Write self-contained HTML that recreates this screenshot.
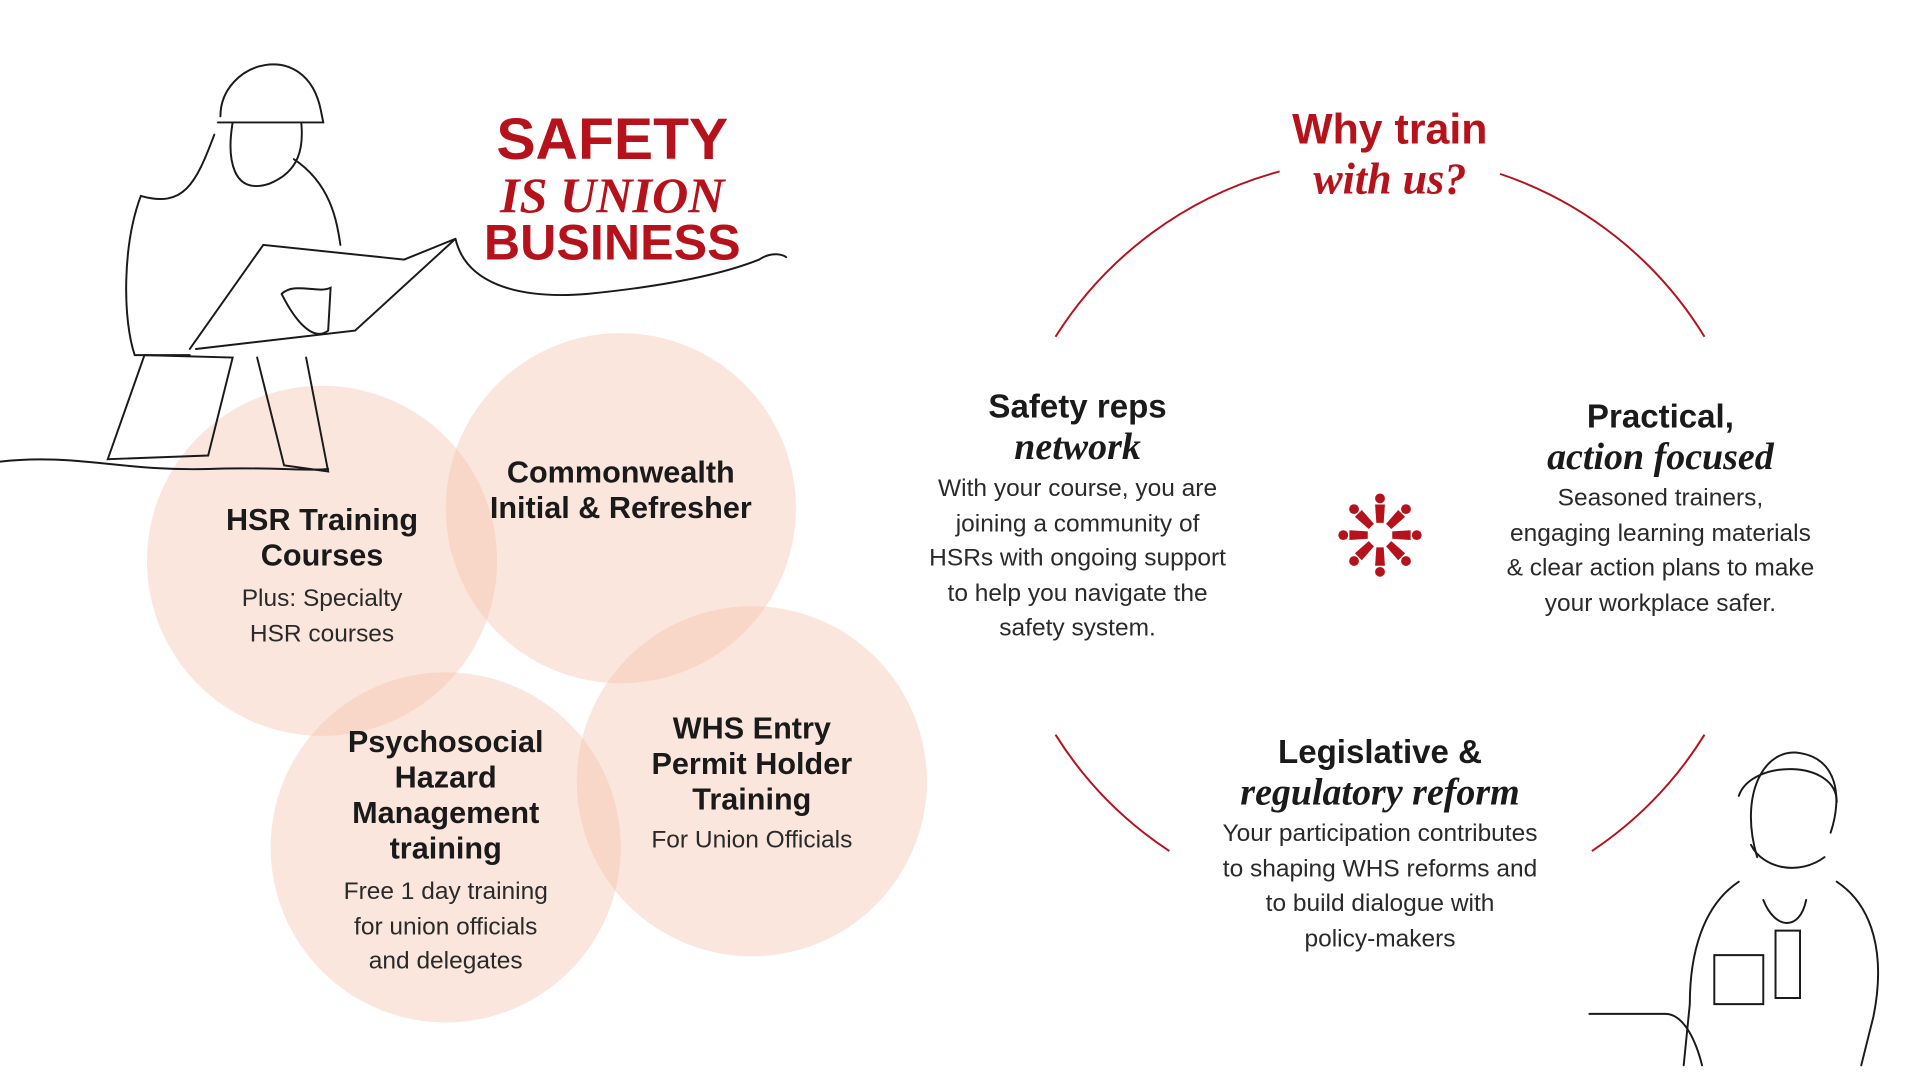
<!DOCTYPE html>
<html><head><meta charset="utf-8"><style>
html,body{margin:0;padding:0;background:#fff;width:1920px;height:1080px;overflow:hidden}
#w{position:absolute;left:0;top:0;width:1568px;height:882px;transform:scale(1.2245);transform-origin:0 0;font-family:"Liberation Sans",sans-serif;color:#1a1a1a}
.c{position:absolute;border-radius:50%;background:rgba(246,196,174,0.42)}
.t{position:absolute;text-align:center;transform:translateX(-50%);white-space:nowrap}
.h{font-weight:bold;font-size:25px;line-height:29px}
.b{font-size:20px;line-height:28.5px;color:#2a2a2a}
.i{font-family:"Liberation Serif",serif;font-style:italic;font-weight:bold;font-size:31px}
.red{color:#b5121b}
</style></head><body><div id="w">
<div class="c" style="left:120px;top:315px;width:286px;height:286px"></div>
<div class="c" style="left:364px;top:272px;width:286px;height:286px"></div>
<div class="c" style="left:221px;top:549px;width:286px;height:286px"></div>
<div class="c" style="left:471px;top:495px;width:286px;height:286px"></div>

<svg style="position:absolute;left:0;top:0" width="1568" height="882" fill="none">
<g stroke="#b5121b" stroke-width="1.6">
<path d="M862 275 A312 312 0 0 1 1045 140"/>
<path d="M1225 142 A312 312 0 0 1 1392 275"/>
<path d="M862 600 A312 312 0 0 0 955 695"/>
<path d="M1300 695 A312 312 0 0 0 1392 600"/>
</g>
<g stroke="#1a1a1a" stroke-width="1.6" stroke-linecap="round">
<path d="M0 377 C60 370 100 385 170 383 C220 381 250 385 268 383"/>
<path d="M180 95 C180 50 250 30 262 90 L264 100 L178 100"/>
<path d="M190 100 C185 130 190 160 220 150 C245 140 248 120 246 100"/>
<path d="M175 110 C160 150 150 170 115 160 C100 200 100 260 110 290 L155 290"/>
<path d="M240 130 C270 150 275 180 278 200"/>
<path d="M155 285 L215 200 L330 212 L372 195 L290 270 L160 285"/>
<path d="M372 195 C380 230 420 245 480 240 C560 232 600 220 620 212 C630 205 640 208 642 210"/>
<path d="M118 290 L88 375 L170 372 L190 292 Z"/>
<path d="M210 292 L232 380 L268 385 L250 292"/>
<path d="M230 240 C240 230 260 240 270 235 L268 270 C255 280 240 260 230 240"/>
<path d="M1435 700 C1420 650 1440 610 1470 615 C1500 620 1505 650 1495 680"/>
<path d="M1420 650 C1430 620 1500 620 1500 655"/>
<path d="M1430 690 C1440 710 1470 715 1490 700"/>
<path d="M1420 720 C1390 740 1380 780 1380 820 L1375 870 M1500 720 C1530 740 1540 780 1530 830 L1520 870"/>
<path d="M1298 828 L1360 828 C1375 828 1385 850 1390 870"/>
<path d="M1400 780 L1440 780 L1440 820 L1400 820 Z"/>
<path d="M1450 760 L1470 760 L1470 815 L1450 815 Z"/>
<path d="M1440 735 C1450 760 1470 760 1475 735"/>
</g>
<g fill="#b5121b" transform="translate(1127,437)">
<g id="p"><circle cx="0" cy="-30" r="4"/><path d="M-4 -25 L4 -25 L3 -10 L-3 -10 Z"/></g>
<use href="#p" transform="rotate(45)"/><use href="#p" transform="rotate(90)"/><use href="#p" transform="rotate(135)"/>
<use href="#p" transform="rotate(180)"/><use href="#p" transform="rotate(225)"/><use href="#p" transform="rotate(270)"/><use href="#p" transform="rotate(315)"/>
</g>
</svg>

<div class="t red" style="left:500px;top:90px;font-weight:bold;font-size:48px;line-height:50px">SAFETY</div>
<div class="t red" style="left:500px;top:137px;font-family:'Liberation Serif',serif;font-style:italic;font-weight:bold;font-size:41px;line-height:44px">IS UNION</div>
<div class="t red" style="left:500px;top:176px;font-weight:bold;font-size:41px;line-height:44px">BUSINESS</div>

<div class="t red" style="left:1135px;top:86px;font-weight:bold;font-size:35px;line-height:40px">Why train</div>
<div class="t red i" style="left:1135px;top:125px;font-size:36px;line-height:42px">with us?</div>

<div class="t" style="left:263px;top:411px"><div class="h">HSR Training<br>Courses</div><div class="b" style="margin-top:6px">Plus: Specialty<br>HSR courses</div></div>
<div class="t" style="left:507px;top:372px"><div class="h">Commonwealth<br>Initial &amp; Refresher</div></div>
<div class="t" style="left:364px;top:592px"><div class="h">Psychosocial<br>Hazard<br>Management<br>training</div><div class="b" style="margin-top:6px">Free 1 day training<br>for union officials<br>and delegates</div></div>
<div class="t" style="left:614px;top:581px"><div class="h">WHS Entry<br>Permit Holder<br>Training</div><div class="b" style="margin-top:4px">For Union Officials</div></div>

<div class="t" style="left:880px;top:318px"><div class="h" style="font-size:27px">Safety reps</div><div class="i" style="line-height:36px">network</div><div class="b" style="margin-top:2px">With your course, you are<br>joining a community of<br>HSRs with ongoing support<br>to help you navigate the<br>safety system.</div></div>
<div class="t" style="left:1356px;top:326px"><div class="h" style="font-size:27px">Practical,</div><div class="i" style="line-height:36px">action focused</div><div class="b" style="margin-top:2px">Seasoned trainers,<br>engaging learning materials<br>&amp; clear action plans to make<br>your workplace safer.</div></div>
<div class="t" style="left:1127px;top:600px"><div class="h" style="font-size:27px">Legislative &amp;</div><div class="i" style="line-height:36px">regulatory reform</div><div class="b" style="margin-top:2px">Your participation contributes<br>to shaping WHS reforms and<br>to build dialogue with<br>policy-makers</div></div>
</div></body></html>
